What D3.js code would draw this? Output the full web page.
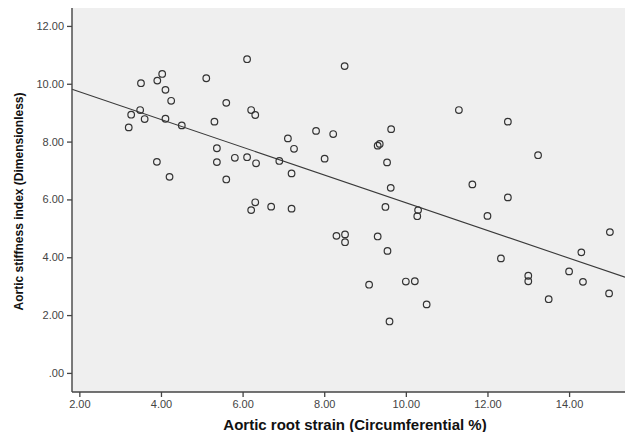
<!DOCTYPE html>
<html>
<head>
<meta charset="utf-8">
<script src="https://cdn.jsdelivr.net/npm/d3@7"></script>
<style>
  html, body { margin: 0; padding: 0; background: #ffffff; }
  svg { display: block; }
</style>
</head>
<body>
<svg id="chart" width="625" height="432"></svg>
<script>
// Aortic root strain (Circumferential %)
const strainValues = [3.21, 3.27, 3.49, 3.51, 3.60, 3.91, 4.03, 4.11, 4.11, 4.25,
  4.51, 3.90, 4.21, 5.11, 5.31, 5.37, 5.37, 5.60, 5.60, 5.81,
  6.11, 6.21, 6.31, 6.11, 6.33, 6.21, 6.31, 6.70, 6.90, 7.11,
  7.20, 7.26, 7.20, 7.80, 8.01, 8.22, 8.30, 8.51, 8.51, 8.50,
  9.10, 9.31, 9.36, 9.31, 9.54, 9.64, 9.63, 9.50, 9.55, 9.60,
  10.00, 10.22, 10.30, 10.28, 10.51, 11.30, 11.63, 12.00, 12.33, 12.50,
  12.50, 13.00, 13.00, 13.24, 13.50, 14.00, 14.30, 14.34, 15.00, 14.98];
// Aortic stiffness index (Dimensionless)
const stiffnessValues = [8.49, 8.93, 9.09, 10.02, 8.78, 10.11, 10.34, 9.79, 8.79, 9.41,
  8.56, 7.30, 6.78, 10.19, 8.69, 7.77, 7.29, 9.34, 6.69, 7.44,
  10.85, 9.09, 8.92, 7.46, 7.25, 5.63, 5.90, 5.75, 7.33, 8.11,
  6.90, 7.75, 5.68, 8.37, 7.41, 8.26, 4.74, 4.79, 4.52, 10.61,
  3.05, 7.86, 7.92, 4.72, 7.28, 8.43, 6.40, 5.74, 4.22, 1.78,
  3.16, 3.17, 5.63, 5.42, 2.37, 9.09, 6.52, 5.43, 3.96, 8.69,
  6.07, 3.36, 3.17, 7.53, 2.55, 3.51, 4.17, 3.15, 4.87, 2.75];
// Fit line end points
const fitX = [1.82, 15.37];
const fitY = [9.81, 3.31];
// Axis ticks
const xTicks = [2, 4, 6, 8, 10, 12, 14];
const xTickLabels = ["2.00", "4.00", "6.00", "8.00", "10.00", "12.00", "14.00"];
const yTicks = [0, 2, 4, 6, 8, 10, 12];
const yTickLabels = [".00", "2.00", "4.00", "6.00", "8.00", "10.00", "12.00"];
const xTitle = "Aortic root strain (Circumferential %)";
const yTitle = "Aortic stiffness index (Dimensionless)";

const svg = d3.select("#chart");
const L = 72, T = 8, R = 625, B = 392;
const x = d3.scaleLinear().domain([1.82, 15.37]).range([L, R]);
const y = d3.scaleLinear().domain([-0.66, 12.62]).range([B, T]);
const font = "'Liberation Sans', Arial, sans-serif";

svg.append("rect").attr("x", L).attr("y", T).attr("width", R - L).attr("height", B - T)
  .attr("fill", "#efefef");

// fit line
svg.append("line")
  .attr("x1", x(fitX[0])).attr("y1", y(fitY[0]))
  .attr("x2", x(fitX[1])).attr("y2", y(fitY[1]))
  .attr("stroke", "#3a3a3a").attr("stroke-width", 1.1);

// points
svg.append("g").selectAll("circle")
  .data(strainValues.map((v, i) => [v, stiffnessValues[i]]))
  .join("circle")
  .attr("cx", d => x(d[0])).attr("cy", d => y(d[1]))
  .attr("r", 3.3)
  .attr("fill", "none").attr("stroke", "#333").attr("stroke-width", 1.2);

// axes
const xAxis = d3.axisBottom(x).tickValues(xTicks)
  .tickFormat((d, i) => xTickLabels[i]).tickSizeOuter(0).tickSize(5).tickPadding(3);
const gx = svg.append("g").attr("transform", `translate(0,${B})`).call(xAxis);
const yAxis = d3.axisLeft(y).tickValues(yTicks)
  .tickFormat((d, i) => yTickLabels[i]).tickSizeOuter(0).tickSize(5).tickPadding(3);
const gy = svg.append("g").attr("transform", `translate(${L},0)`).call(yAxis);

[gx, gy].forEach(g => {
  g.select(".domain").attr("stroke", "#444").attr("stroke-width", 1.4);
  g.selectAll(".tick line").attr("stroke", "#444").attr("stroke-width", 1.3);
  g.selectAll(".tick text").attr("fill", "#444").style("font-family", font).style("font-size", "11px");
});
gx.select(".domain").attr("d", `M${L},0H${R}`);
gy.select(".domain").attr("d", `M0,${T}V${B}`);

svg.append("text").attr("x", 355).attr("y", 430)
  .attr("text-anchor", "middle").attr("font-family", font).attr("font-weight", "bold")
  .attr("font-size", 15).attr("fill", "#111").text(xTitle);

svg.append("text").attr("transform", "translate(23,201.5) rotate(-90)")
  .attr("text-anchor", "middle").attr("font-family", font).attr("font-weight", "bold")
  .attr("font-size", 12).attr("fill", "#111").text(yTitle);
</script>
</body>
</html>
